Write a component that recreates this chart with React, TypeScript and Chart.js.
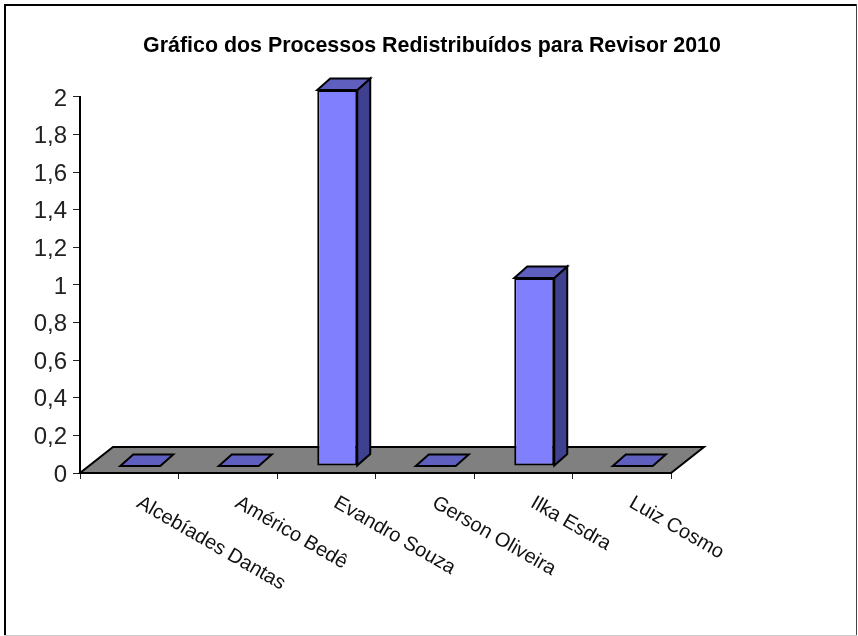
import React, { useEffect, useRef } from "react";
import { Chart, registerables, CategoryScale } from "chart.js";

Chart.register(...registerables);

// Category scale whose rotated labels start at the tick and run down to the right.
class StartCategoryScale extends CategoryScale {
  static id = "startCategory";
  static defaults = CategoryScale.defaults;
  _getXAxisLabelAlignment() {
    return "left";
  }
}
Chart.register(StartCategoryScale as any);

const categories = ["Alcebíades Dantas", "Américo Bedê", "Evandro Souza", "Gerson Oliveira", "Ilka Esdra", "Luiz Cosmo"];
const processos = [0, 0, 2, 0, 1, 0];
const titleText = "Gráfico dos Processos Redistribuídos para Revisor 2010";

const FONT = "'Liberation Sans', Arial, sans-serif";
const BAR_SHIFT = { x: 11, y: -7 };
const BAR_DEPTH = { x: 13, y: -11.5 };
const FLOOR_DEPTH = { x: 33, y: -26 };
const EDGE = 2;

function poly(ctx: CanvasRenderingContext2D, pts: number[][], fill: string, lw: number) {
  ctx.beginPath();
  pts.forEach(([x, y], i) => (i ? ctx.lineTo(x, y) : ctx.moveTo(x, y)));
  ctx.closePath();
  ctx.fillStyle = fill;
  ctx.fill();
  ctx.lineWidth = lw;
  ctx.strokeStyle = "#000";
  ctx.stroke();
}

const frame3d = {
  id: "frame3d",
  beforeDraw(chart: any) {
    const c = chart.ctx;
    c.save();
    c.fillStyle = "#fff";
    c.fillRect(0, 0, 858, 636);
    c.fillStyle = "#000";
    c.fillRect(4, 4, 853, 2);
    c.fillRect(4, 4, 2, 631);
    c.fillStyle = "#444";
    c.fillRect(856, 4, 1, 631);
    c.fillStyle = "#c8c8c8";
    c.fillRect(4, 635, 853, 1);
    c.restore();
  },
  beforeDatasetsDraw(chart: any) {
    const c = chart.ctx;
    const { x, y } = chart.scales;
    const y0 = y.getPixelForValue(0);
    c.save();
    poly(
      c,
      [
        [x.left, y0],
        [x.right, y0],
        [x.right + FLOOR_DEPTH.x, y0 + FLOOR_DEPTH.y],
        [x.left + FLOOR_DEPTH.x, y0 + FLOOR_DEPTH.y],
      ],
      "#808080",
      EDGE
    );
    const meta = chart.getDatasetMeta(0);
    meta.data.forEach((bar: any) => {
      const p = bar.getProps(["x", "y", "base", "width"], true);
      const l = p.x - p.width / 2 + BAR_SHIFT.x;
      const r = p.x + p.width / 2 + BAR_SHIFT.x;
      const t = p.y + BAR_SHIFT.y;
      const b = p.base + BAR_SHIFT.y;
      const d = BAR_DEPTH;
      if (b - t > 0.5) {
        poly(c, [[r, t], [r + d.x, t + d.y], [r + d.x, b + d.y], [r, b]], "#404090", EDGE);
      }
      poly(c, [[l, t], [r, t], [r + d.x, t + d.y], [l + d.x, t + d.y]], "#5f5fc0", EDGE);
    });
    c.restore();
    c.save();
    c.translate(BAR_SHIFT.x, BAR_SHIFT.y);
  },
  afterDatasetsDraw(chart: any) {
    chart.ctx.restore();
  },
};

export default function App() {
  const ref = useRef<HTMLCanvasElement>(null);
  useEffect(() => {
    document.body.style.margin = "0";
    const chart = new Chart(ref.current!, {
      type: "bar",
      data: {
        labels: categories,
        datasets: [
          {
            label: "Processos",
            data: processos,
            backgroundColor: "#8080ff",
            borderColor: "#000",
            borderWidth: EDGE,
            borderSkipped: false,
            barPercentage: 0.406,
            categoryPercentage: 1,
            clip: false as any,
          },
        ],
      },
      options: {
        responsive: false,
        animation: false,
        layout: { padding: { left: 6, right: 0, top: 0, bottom: 0 } },
        plugins: {
          legend: { display: false },
          tooltip: { enabled: false },
          title: {
            display: true,
            text: titleText,
            color: "#000",
            font: { family: FONT, size: 21.4, weight: "bold", lineHeight: 1.2 },
            padding: { top: 33, bottom: 38.3 },
          },
        },
        scales: {
          x: {
            type: "startCategory" as any,
            afterFit: (s: any) => {
              s.height = 163;
              s.paddingLeft = 0;
              s.paddingRight = 0;
            },
            grid: { drawOnChartArea: false, tickLength: 6, color: "#222", lineWidth: 1 },
            border: { color: "#000", width: 2 },
            ticks: {
              autoSkip: false,
              minRotation: -30,
              maxRotation: -30,
              padding: 12,
              labelOffset: 9,
              color: "#111",
              font: { family: FONT, size: 20 },
            },
          },
          y: {
            min: 0,
            max: 2,
            afterFit: (s: any) => {
              s.width = 74;
            },
            grid: { drawOnChartArea: false, tickLength: 7, color: "#222", lineWidth: 1 },
            border: { color: "#000", width: 2 },
            ticks: {
              stepSize: 0.2,
              padding: 6,
              labelOffset: 2,
              color: "#222",
              font: { family: FONT, size: 24 },
              callback: (v: any) => String(Number(Number(v).toFixed(1))).replace(".", ","),
            },
          },
          spacer: {
            type: "linear",
            position: "right",
            afterFit: (s: any) => {
              s.width = 187;
            },
            grid: { display: false },
            border: { display: false },
            ticks: { display: false },
          },
        },
      },
      plugins: [frame3d],
    } as any);
    return () => chart.destroy();
  }, []);
  return <canvas ref={ref} width={858} height={636} style={{ display: "block" }} />;
}
